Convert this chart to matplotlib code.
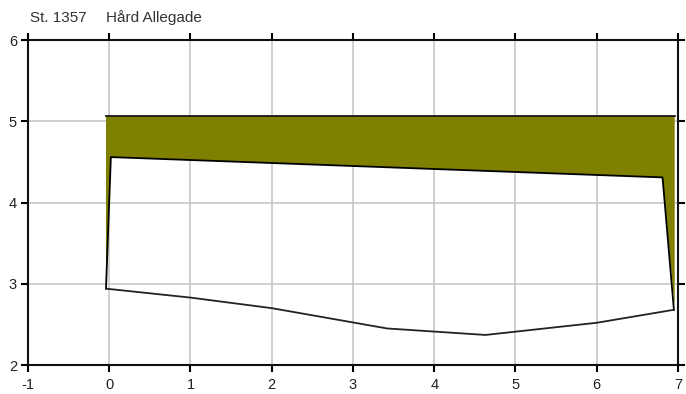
import matplotlib
matplotlib.use("Agg")
import matplotlib.pyplot as plt

plt.rcParams['font.family'] = ['Liberation Sans', 'DejaVu Sans']
plt.rcParams['axes.unicode_minus'] = False

station = "St. 1357"
location = "Hård Allegade"

# upper (olive) band
band_x = [-0.04, 6.96, 6.96, 6.81, 0.02, -0.04]
band_y = [5.07, 5.07, 2.72, 4.31, 4.56, 2.94]

# inner profile: top edge
top_x = [-0.04, 0.02, 6.81, 6.95]
top_y = [2.94, 4.56, 4.31, 2.68]

# bottom line
bot_x = [-0.04, 1.0, 2.0, 3.42, 4.63, 6.0, 6.95]
bot_y = [2.94, 2.83, 2.70, 2.45, 2.37, 2.52, 2.68]

xticks = [-1, 0, 1, 2, 3, 4, 5, 6, 7]
yticks = [2, 3, 4, 5, 6]

fig = plt.figure(figsize=(6.86, 3.94), dpi=100)
ax = fig.add_axes([0.0408, 0.0736, 0.9475, 0.8245])

ax.fill(band_x, band_y, color='#808000', lw=0, zorder=2)
ax.plot([band_x[0], band_x[1]], [band_y[0], band_y[1]], color='#1a1a1a', lw=1.3, zorder=3)
ax.plot(top_x, top_y, color='black', lw=1.3, zorder=3)
ax.plot(bot_x, bot_y, color='#222222', lw=1.3, zorder=3)

ax.set_xlim(-1, 7)
ax.set_ylim(2, 6)
ax.set_xticks(xticks)
ax.set_yticks(yticks)
ax.grid(True, color='#c8c8c8', lw=1.2, zorder=0)
ax.set_axisbelow(True)
for s in ax.spines.values():
    s.set_linewidth(1.5)
    s.set_color('#111111')
ax.tick_params(axis='both', which='both', direction='out', length=5, width=1.5,
               labelsize=10.5, top=True, right=True, pad=3, labelcolor='#222222')
ax.tick_params(axis='x', pad=4)

fig.text(0.044, 0.955, station, fontsize=11, ha='left', va='center', color='#333333')
fig.text(0.1545, 0.955, location, fontsize=11, ha='left', va='center', color='#333333')

fig.savefig('out.png', dpi=100)
